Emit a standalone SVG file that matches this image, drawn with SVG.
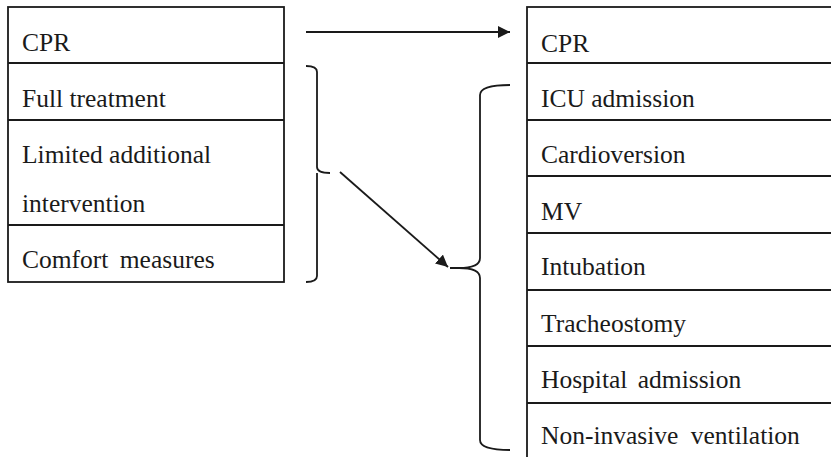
<svg xmlns="http://www.w3.org/2000/svg" width="831" height="457" viewBox="0 0 831 457">
<style>
.box{fill:#fff;stroke:#1a1a1a;stroke-width:1.8}
.ln{stroke:#1a1a1a;stroke-width:1.8;fill:none}
text{font-family:"Liberation Serif","Times New Roman",Times,Tinos,"DejaVu Serif","Noto Serif",serif;font-size:25.5px;fill:#1a1a1a}
</style>
<defs>
<marker id="ah" viewBox="0 0 10 10" refX="10" refY="5" markerWidth="12" markerHeight="12" markerUnits="userSpaceOnUse" orient="auto">
<path d="M0,0 L10,5 L0,10 z" fill="#1a1a1a"/>
</marker>
</defs>
<rect width="831" height="457" fill="#fff"/>
<g id="left-table">
<rect class="box" x="8" y="7" width="276" height="275"/>
<line class="ln" x1="8" y1="63" x2="284" y2="63"/>
<line class="ln" x1="8" y1="120" x2="284" y2="120"/>
<line class="ln" x1="8" y1="225" x2="284" y2="225"/>
<text x="22" y="51">CPR</text>
<text x="22" y="107">Full treatment</text>
<text x="22" y="163">Limited additional</text>
<text x="22" y="212">intervention</text>
<text x="22" y="268" word-spacing="5">Comfort measures</text>
</g>
<g id="right-table">
<rect class="box" x="527" y="7" width="310" height="460"/>
<line class="ln" x1="527" y1="63" x2="831" y2="63"/>
<line class="ln" x1="527" y1="120" x2="831" y2="120"/>
<line class="ln" x1="527" y1="176" x2="831" y2="176"/>
<line class="ln" x1="527" y1="233" x2="831" y2="233"/>
<line class="ln" x1="527" y1="290" x2="831" y2="290"/>
<line class="ln" x1="527" y1="346" x2="831" y2="346"/>
<line class="ln" x1="527" y1="403" x2="831" y2="403"/>
<text x="541" y="52">CPR</text>
<text x="541" y="107">ICU admission</text>
<text x="541" y="163">Cardioversion</text>
<text x="541" y="220">MV</text>
<text x="541" y="275">Intubation</text>
<text x="541" y="332">Tracheostomy</text>
<text x="541" y="388" word-spacing="4">Hospital admission</text>
<text x="541" y="444" word-spacing="6">Non-invasive ventilation</text>
</g>
<g id="connectors">
<line class="ln" x1="306" y1="32" x2="510" y2="32" marker-end="url(#ah)"/>
<path class="ln" d="M306,66 Q317,66 317,72 L317,167 Q317,173 330,173 M317,173 Q317,179 317,180 L317,276 Q317,282 306,282"/>
<line class="ln" x1="340" y1="172" x2="448" y2="267" marker-end="url(#ah)"/>
<path class="ln" d="M510,85 Q480,85 480,95 L480,258 Q480,268 459,268 L450,268 M459,268 Q480,268 480,278 L480,440 Q480,450 510,450"/>
</g>
</svg>
